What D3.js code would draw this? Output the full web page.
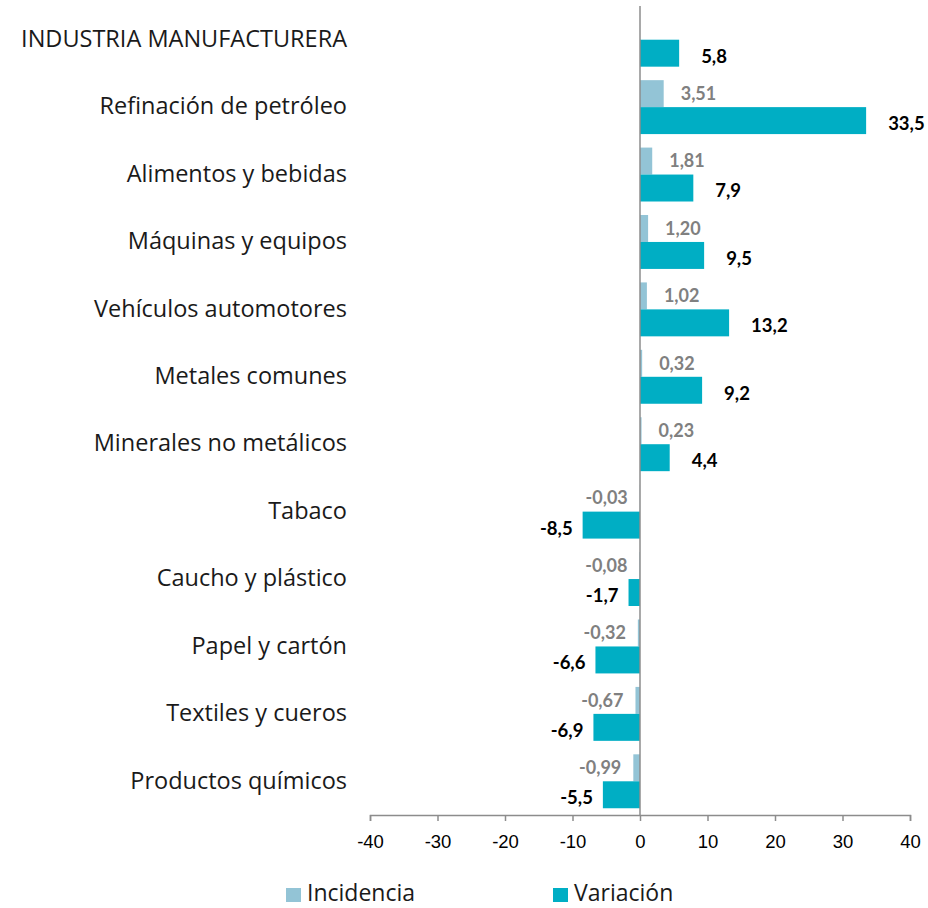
<!DOCTYPE html>
<html>
<head>
<meta charset="utf-8">
<script src="https://cdn.jsdelivr.net/npm/d3@7"></script>
<style>
  html, body { margin: 0; padding: 0; background: #fff; }
  svg { display: block; font-family: "Open Sans", Lato, sans-serif; }
</style>
</head>
<body>
<div id="viz-container"></div>
<script>
// Sectors, top to bottom
const categories = [
    "INDUSTRIA MANUFACTURERA", "Refinación de petróleo", "Alimentos y bebidas",
    "Máquinas y equipos", "Vehículos automotores", "Metales comunes",
    "Minerales no metálicos", "Tabaco", "Caucho y plástico",
    "Papel y cartón", "Textiles y cueros", "Productos químicos"
];
// Incidencia (no value for the total row)
const incidencia = [null, 3.51, 1.81, 1.20, 1.02, 0.32, 0.23, -0.03, -0.08, -0.32, -0.67, -0.99];
// Variación (%)
const variacion = [5.8, 33.5, 7.9, 9.5, 13.2, 9.2, 4.4, -8.5, -1.7, -6.6, -6.9, -5.5];
const xTicks = [-40, -30, -20, -10, 0, 10, 20, 30, 40];
const seriesNames = ["Incidencia", "Variación"];

function fmt(v, dec) {
    return v.toFixed(dec).replace(".", ",");
}

function drawChart({ container = "#viz-container", width = 928, height = 908 }) {
    const svg = d3.select(container).append("svg")
        .attr("width", width)
        .attr("height", height);

    const colors = { "Incidencia": "#93c4d6", "Variación": "#00aec4" };

    // Scales
    const x = d3.scaleLinear().domain([-40, 40]).range([370, 910]);
    const y = d3.scaleBand().domain(categories).range([6, 815]).paddingInner(0.2).paddingOuter(0.1);
    const sub = d3.scaleBand().domain(seriesNames).range([0, y.bandwidth()]);

    // Bottom axis
    const xAxis = svg.append("g")
        .attr("transform", "translate(0,815)")
        .call(d3.axisBottom(x).tickValues(xTicks).tickSize(6).tickPadding(14)
            .tickFormat(d => String(d)));
    xAxis.select(".domain").attr("stroke", "#8c8c8c").attr("stroke-width", 1.5);
    xAxis.selectAll(".tick line").attr("stroke", "#8c8c8c").attr("stroke-width", 1.5);
    xAxis.selectAll("text")
        .style("font-size", "18.5px")
        .style("fill", "#000");

    // Rows of data
    const rows = categories.map((c, i) => ({ cat: c, inc: incidencia[i], vari: variacion[i] }));

    const groups = svg.selectAll(".row")
        .data(rows)
        .enter()
        .append("g")
        .attr("class", "row")
        .attr("transform", d => `translate(0,${y(d.cat)})`);

    // Incidencia bars
    groups.filter(d => d.inc !== null).append("rect")
        .attr("x", d => x(Math.min(0, d.inc)))
        .attr("y", sub("Incidencia"))
        .attr("width", d => Math.abs(x(d.inc) - x(0)))
        .attr("height", sub.bandwidth())
        .attr("fill", colors["Incidencia"]);

    // Variación bars
    groups.append("rect")
        .attr("x", d => x(Math.min(0, d.vari)))
        .attr("y", sub("Variación"))
        .attr("width", d => Math.abs(x(d.vari) - x(0)))
        .attr("height", sub.bandwidth())
        .attr("fill", colors["Variación"]);

    // Value labels
    groups.filter(d => d.inc !== null).append("text")
        .attr("x", d => d.inc >= 0 ? x(d.inc) + 17 : x(d.inc) - 12)
        .attr("y", sub("Incidencia") + sub.bandwidth() / 2)
        .attr("dy", "0.35em")
        .attr("text-anchor", d => d.inc >= 0 ? "start" : "end")
        .style("font-family", "Lato, sans-serif")
        .style("font-size", "18px")
        .style("font-weight", "bold")
        .style("fill", "#808080")
        .text(d => fmt(d.inc, 2));

    groups.append("text")
        .attr("x", d => d.vari >= 0 ? x(d.vari) + 22 : x(d.vari) - 10)
        .attr("y", sub("Variación") + sub.bandwidth() / 2 + 3)
        .attr("dy", "0.35em")
        .attr("text-anchor", d => d.vari >= 0 ? "start" : "end")
        .style("font-family", "Lato, sans-serif")
        .style("font-size", "18.5px")
        .style("font-weight", "bold")
        .style("fill", "#000")
        .text(d => fmt(d.vari, 1));

    // Category labels
    groups.append("text")
        .attr("x", 347)
        .attr("y", y.bandwidth() / 2 - 1)
        .attr("dy", "0.35em")
        .attr("text-anchor", "end")
        .style("font-size", "23.5px")
        .style("fill", "#1a1a1a")
        .text(d => d.cat);

    // Vertical zero line
    svg.append("line")
        .attr("x1", x(0)).attr("x2", x(0))
        .attr("y1", 6).attr("y2", 815)
        .attr("stroke", "#8c8c8c")
        .attr("stroke-width", 1.5);

    // Legend
    const legendX = [286, 553];
    seriesNames.forEach((s, i) => {
        const g = svg.append("g").attr("transform", `translate(${legendX[i]},888)`);
        g.append("rect")
            .attr("width", 15)
            .attr("height", 14)
            .attr("fill", colors[s]);
        g.append("text")
            .attr("x", 21)
            .attr("y", 5)
            .attr("dy", "0.35em")
            .style("font-size", "23px")
            .style("fill", "#1a1a1a")
            .text(s);
    });
}

drawChart({});
</script>
</body>
</html>
